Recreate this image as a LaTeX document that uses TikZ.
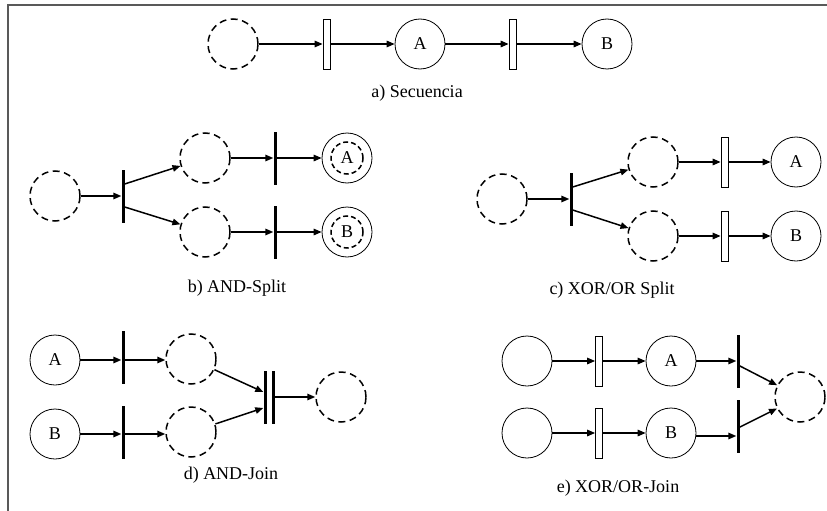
\documentclass[tikz,border=0pt]{standalone}
\usepackage{fontspec}
\setmainfont{Liberation Serif}
\usetikzlibrary{arrows.meta,positioning}

\begin{document}
\begin{tikzpicture}[
    x=1pt, y=-1pt,
    every node/.style={font=\fontsize{18}{21}\selectfont},
    place/.style={circle, draw, minimum size=50pt, inner sep=0pt, line width=0.8pt},
    dplace/.style={circle, draw, minimum size=50pt, inner sep=0pt, line width=1.5pt, dash pattern=on 7pt off 4.5pt},
    inplace/.style={circle, draw, minimum size=32pt, inner sep=0pt, line width=1.5pt, dash pattern=on 5pt off 3pt},
    opentr/.style={rectangle, draw, minimum width=7pt, minimum height=50pt, inner sep=0pt, line width=0.8pt},
    bartr/.style={rectangle, fill=black, minimum width=3pt, minimum height=53pt, inner sep=0pt},
    arc/.style={-{Triangle[length=8pt,width=6.5pt]}, line width=1.5pt},
    caption/.style={font=\fontsize{18}{21}\selectfont}
]
\useasboundingbox (0,0) rectangle (827,511);

% frame
\draw[gray!70!black, line width=1.2pt] (8,511) -- (8,5) -- (827,5);

% a) Secuencia
\node[dplace] (a0) at (233,44) {};
\node[opentr] (at1) at (326.5,44) {};
\node[place] (aA) at (420,44) {A};
\node[opentr] (at2) at (512.5,44) {};
\node[place] (aB) at (607,44) {B};
\node[caption] (acap) at (417,93) {a) Secuencia};

\draw[arc] (a0) -- (at1);
\draw[arc] (at1) -- (aA);
\draw[arc] (aA) -- (at2);
\draw[arc] (at2) -- (aB);

% b) AND-Split
\node[dplace] (b0) at (55,196) {};
\node[bartr] (bt0) at (123,196) {};
\node[dplace] (bu) at (205,158) {};
\node[dplace] (bl) at (205,232) {};
\node[bartr] (btu) at (275,158) {};
\node[bartr] (btl) at (275,232) {};
\node[place] (bA) at (347,158) {};
\node[inplace] (bAin) at (347,158) {A};
\node[place] (bB) at (347,232) {};
\node[inplace] (bBin) at (347,232) {B};
\node[caption] (bcap) at (237,288) {b) AND-Split};

\draw[arc] (b0) -- (bt0);
\draw[arc] ([yshift=12pt]bt0.east) -- (bu);
\draw[arc] ([yshift=-11pt]bt0.east) -- (bl);
\draw[arc] (bu) -- (btu);
\draw[arc] (bl) -- (btl);
\draw[arc] (btu) -- (bA);
\draw[arc] (btl) -- (bB);

% c) XOR/OR Split
\node[dplace] (c0) at (502,199) {};
\node[bartr] (ct0) at (571,199) {};
\node[dplace] (cu) at (653,162) {};
\node[dplace] (cl) at (653,236) {};
\node[opentr] (ctu) at (724.5,162) {};
\node[opentr] (ctl) at (724.5,236) {};
\node[place] (cA) at (796,162) {A};
\node[place] (cB) at (796,236) {B};
\node[caption] (ccap) at (612,290) {c) XOR/OR Split};

\draw[arc] (c0) -- (ct0);
\draw[arc] ([yshift=12pt]ct0.east) -- (cu);
\draw[arc] ([yshift=-11pt]ct0.east) -- (cl);
\draw[arc] (cu) -- (ctu);
\draw[arc] (cl) -- (ctl);
\draw[arc] (ctu) -- (cA);
\draw[arc] (ctl) -- (cB);

% d) AND-Join
\node[place] (dA) at (55,360) {A};
\node[place] (dB) at (55,434) {B};
\node[bartr] (dtu) at (123,357) {};
\node[bartr] (dtl) at (123,432) {};
\node[dplace] (du) at (191,359) {};
\node[dplace] (dl) at (191,432) {};
\node[bartr] (dj1) at (265,397) {};
\node[bartr] (dj2) at (273,397) {};
\node[dplace] (dout) at (341,397) {};
\node[caption] (dcap) at (231,475) {d) AND-Join};

\draw[arc] (dA.east) -- (dA.east -| dtu.west);
\draw[arc] (dB.east) -- (dB.east -| dtl.west);
\draw[arc] (dA.east -| dtu.east) -- (dA.east -| du.west);
\draw[arc] (dB.east -| dtl.east) -- (dB.east -| dl.west);
\draw[arc] (du) -- ([yshift=5pt]dj1.west);
\draw[arc] (dl) -- ([yshift=-11pt]dj1.west);
\draw[arc] (dj2) -- (dout);

% e) XOR/OR-Join
\node[place] (e1) at (527,361) {};
\node[place] (e2) at (527,433) {};
\node[opentr] (etu) at (599,361) {};
\node[opentr] (etl) at (599,433) {};
\node[place] (eA) at (671,361) {A};
\node[place] (eB) at (671,433) {B};
\node[bartr] (ebu) at (738,361) {};
\node[bartr] (ebl) at (738,426) {};
\node[dplace] (eout) at (800,397) {};
\node[caption] (ecap) at (618,488) {e) XOR/OR-Join};

\draw[arc] (e1) -- (etu);
\draw[arc] (e2) -- (etl);
\draw[arc] (etu) -- (eA);
\draw[arc] (etl) -- (eB);
\draw[arc] (eA.east) -- (eA.east -| ebu.west);
\draw[arc] ([yshift=-3pt]eB.east) -- ([yshift=-3pt]eB.east -| ebl.west);
\draw[arc] ([yshift=-4pt]ebu.center) -- (eout);
\draw[arc] ([yshift=-2pt]ebl.center) -- (eout);

\end{tikzpicture}
\end{document}
